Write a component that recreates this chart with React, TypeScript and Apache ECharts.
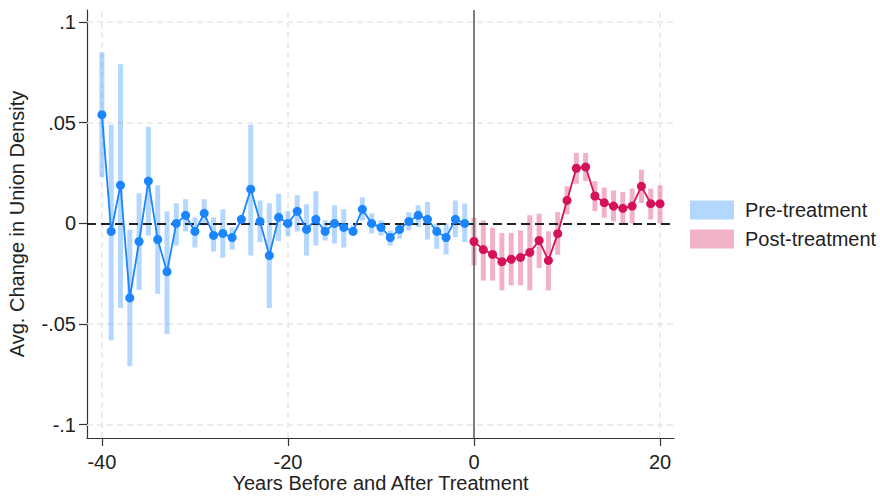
import React, { useEffect, useRef } from "react";
import * as echarts from "echarts";

const preYears = [-40,-39,-38,-37,-36,-35,-34,-33,-32,-31,-30,-29,-28,-27,-26,-25,-24,-23,-22,-21,-20,-19,-18,-17,-16,-15,-14,-13,-12,-11,-10,-9,-8,-7,-6,-5,-4,-3,-2,-1];
const preEst = [0.054,-0.004,0.019,-0.037,-0.009,0.021,-0.008,-0.024,0.000,0.004,-0.004,0.005,-0.006,-0.005,-0.007,0.002,0.017,0.001,-0.016,0.003,0.000,0.006,-0.003,0.002,-0.004,0.000,-0.002,-0.004,0.007,0.000,-0.002,-0.007,-0.003,0.001,0.004,0.002,-0.004,-0.007,0.002,0.000];
const preLo = [0.023,-0.058,-0.042,-0.071,-0.033,-0.006,-0.035,-0.055,-0.011,-0.004,-0.012,-0.001,-0.014,-0.017,-0.013,0.0005,-0.016,-0.0093,-0.042,-0.0088,-0.0063,-0.004,-0.016,-0.011,-0.0085,-0.010,-0.012,-0.006,0.0015,-0.005,-0.006,-0.011,-0.0076,-0.0035,-0.0018,-0.008,-0.0126,-0.0154,-0.0068,-0.0093];
const preHi = [0.085,0.049,0.079,-0.003,0.015,0.048,0.019,0.006,0.010,0.012,0.003,0.012,0.003,0.007,-0.002,0.0035,0.049,0.0114,0.010,0.0148,0.0061,0.014,0.0095,0.016,0.0015,0.009,0.007,-0.001,0.013,0.005,0.0015,-0.0035,0.000,0.0056,0.009,0.0106,0.000,0.000,0.0114,0.0098];

const postYears = [0,1,2,3,4,5,6,7,8,9,10,11,12,13,14,15,16,17,18,19,20];
const postEst = [-0.009,-0.013,-0.0154,-0.019,-0.0178,-0.0169,-0.0144,-0.0085,-0.0184,-0.0051,0.0114,0.0274,0.028,0.0136,0.0103,0.0086,0.0075,0.0086,0.0184,0.0098,0.0098];
const postLo = [-0.0209,-0.0284,-0.0284,-0.0333,-0.0308,-0.0308,-0.0333,-0.0222,-0.0333,-0.0156,0.0045,0.0197,0.021,0.0061,0.0028,0.001,-0.0005,0.000,0.0101,0.002,0.000];
const postHi = [0.0028,0.0015,-0.0021,-0.0048,-0.0048,-0.0035,0.0041,0.0048,-0.004,0.0056,0.0184,0.035,0.035,0.021,0.0178,0.0164,0.0156,0.0173,0.0267,0.0173,0.0189];

const xTicks = [-40, -20, 0, 20];
const yTicks = [-0.1, -0.05, 0, 0.05, 0.1];
const xGridLines = [-40, -20, 20];
const yGridLines = [-0.1, -0.05, 0.05, 0.1];

const BLUE = "#1A85FF";
const RED = "#D41159";
const BLUE_CI = "rgba(26,133,255,0.33)";
const RED_CI = "rgba(212,17,89,0.33)";
const FONT = "'Liberation Sans', Arial, sans-serif";
const FS = 20;

function ciSeries(name: string, years: number[], lo: number[], hi: number[], color: string) {
  return {
    name,
    type: "custom",
    z: 2,
    itemStyle: { color },
    encode: { x: 0, y: [1, 2] },
    data: years.map((y, i) => [y, lo[i], hi[i]]),
    renderItem: (params: any, api: any) => {
      const x = api.value(0);
      const p1 = api.coord([x, api.value(2)]);
      const p2 = api.coord([x, api.value(1)]);
      return {
        type: "rect",
        shape: { x: p1[0] - 2.5, y: p1[1], width: 5, height: p2[1] - p1[1] },
        style: { fill: color },
      };
    },
  };
}

function lineSeries(name: string, years: number[], est: number[], color: string) {
  return {
    name,
    type: "line",
    z: 4,
    data: years.map((y, i) => [y, est[i]]),
    symbol: "circle",
    symbolSize: 9,
    showSymbol: true,
    itemStyle: { color },
    lineStyle: { color, width: 1.8 },
  };
}

export default function App() {
  const ref = useRef<HTMLDivElement>(null);
  useEffect(() => {
    if (!ref.current) return;
    const chart = echarts.init(ref.current, undefined, { renderer: "svg" });
    const option: any = {
      animation: false,
      backgroundColor: "#fff",
      textStyle: { fontFamily: FONT },
      grid: { left: 87, right: 206, top: 10, bottom: 58, containLabel: false, outerBoundsMode: "none" },
      legend: {
        data: ["Pre-treatment", "Post-treatment"],
        orient: "vertical",
        left: 690,
        top: 200,
        padding: 0,
        itemWidth: 44,
        itemHeight: 19,
        itemGap: 9,
        icon: "rect",
        textStyle: { fontSize: FS, color: "#222", fontFamily: FONT, padding: [0, 0, 0, 6] },
      },
      xAxis: {
        type: "value",
        min: -41.6,
        max: 21.5,
        name: "Years Before and After Treatment",
        nameLocation: "middle",
        nameGap: 35,
        nameMoveOverlap: false,
        nameTextStyle: { fontSize: FS, lineHeight: 20, color: "#222", fontFamily: FONT },
        axisLine: { show: true, onZero: false, lineStyle: { color: "#333", width: 1.2 } },
        axisTick: { show: true, length: 8, customValues: xTicks, lineStyle: { color: "#333", width: 1.2 } },
        axisLabel: { customValues: xTicks, fontSize: FS, color: "#222", margin: 14, fontFamily: FONT },
        splitLine: { show: false },
      },
      yAxis: {
        type: "value",
        min: -0.1066,
        max: 0.106,
        name: "Avg. Change in Union Density",
        nameLocation: "middle",
        nameGap: 60,
        nameMoveOverlap: false,
        nameTextStyle: { fontSize: FS, color: "#222", fontFamily: FONT },
        axisLine: { show: true, onZero: false, lineStyle: { color: "#333", width: 1.2 } },
        axisTick: { show: true, length: 8, customValues: yTicks, lineStyle: { color: "#333", width: 1.2 } },
        axisLabel: {
          customValues: yTicks,
          fontSize: FS,
          color: "#222",
          margin: 11,
          fontFamily: FONT,
          formatter: (v: number) => (Math.abs(v) < 1e-9 ? "0" : String(v).replace("0.", ".")),
        },
        splitLine: { show: false },
      },
      series: [
        {
          name: "grid",
          type: "line",
          z: 1,
          data: [],
          silent: true,
          markLine: {
            z: 1,
            silent: true,
            symbol: "none",
            label: { show: false },
            lineStyle: { color: "#e6e6e6", type: [6, 4], width: 1.5 },
            data: [
              ...xGridLines.map((v) => ({ xAxis: v })),
              ...yGridLines.map((v) => ({ yAxis: v })),
            ],
          },
        },
        ciSeries("Pre-treatment", preYears, preLo, preHi, BLUE_CI),
        ciSeries("Post-treatment", postYears, postLo, postHi, RED_CI),
        {
          name: "ref",
          type: "line",
          z: 3,
          data: [],
          silent: true,
          markLine: {
            z: 3,
            silent: true,
            symbol: "none",
            label: { show: false },
            data: [
              { yAxis: 0, lineStyle: { color: "#222", type: [9, 5], width: 2 } },
              { xAxis: 0, lineStyle: { color: "#555", type: "solid", width: 1.5 } },
            ],
          },
        },
        lineSeries("Pre line", preYears, preEst, BLUE),
        lineSeries("Post line", postYears, postEst, RED),
      ],
    };
    chart.setOption(option);
    return () => chart.dispose();
  }, []);
  return <div ref={ref} style={{ position: "fixed", left: 0, top: 0, width: 880, height: 496 }} />;
}
